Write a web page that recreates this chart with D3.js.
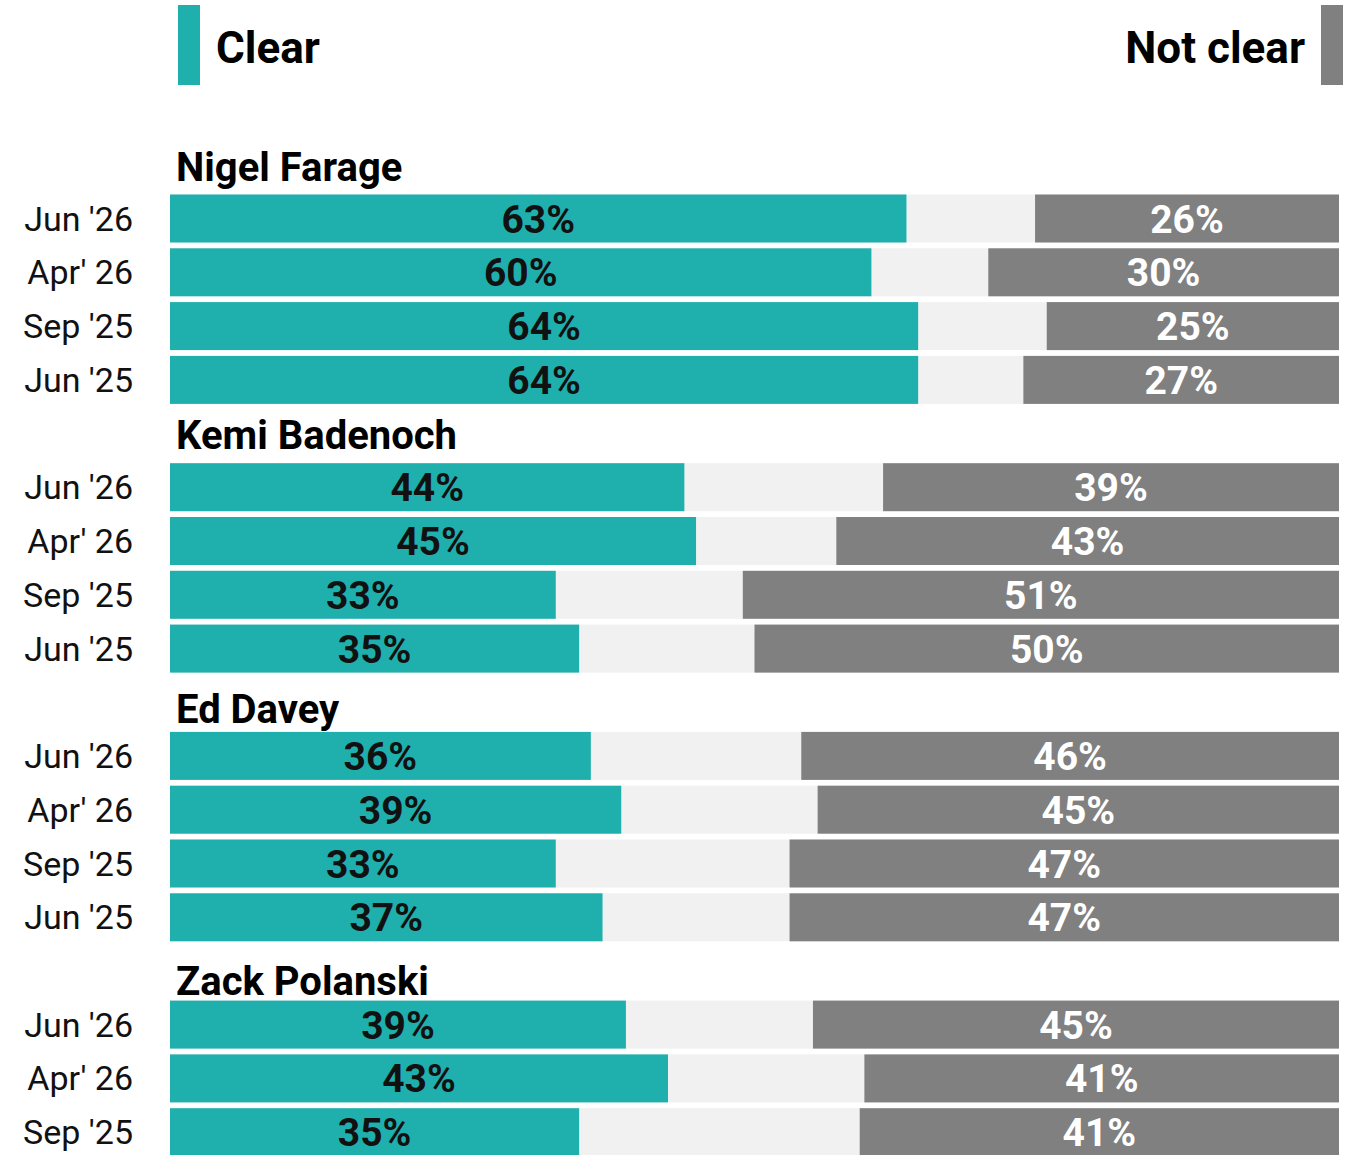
<!DOCTYPE html>
<html>
<head>
<meta charset="utf-8">
<script src="https://cdn.jsdelivr.net/npm/d3@7"></script>
<style>
  body { margin: 0; background: #fff; }
  text { font-family: Roboto, "Noto Sans", sans-serif; }
</style>
</head>
<body>
<div id="chart"></div>
<script>
// data (labels shown rounded)
var leaders = ["Nigel Farage", "Kemi Badenoch", "Ed Davey", "Zack Polanski"];
var waves = ["Jun '26", "Apr' 26", "Sep '25", "Jun '25"];
var clearVals = [
  [63, 60, 64, 64],
  [44, 45, 33, 35],
  [36, 38.6, 33, 37],
  [39, 42.6, 35]
];
var notClearVals = [
  [26, 30, 25, 27],
  [39, 43, 51, 50],
  [46, 44.6, 47, 47],
  [45, 40.6, 41]
];

var config = {
  width: 1352,
  height: 1155,
  barLeft: 170,
  barRight: 1339,
  firstTop: 194.5,
  groupStep: 268.7,
  rowStep: 53.8,
  barH: 48,
  titleOffset: [-14, -14, -9, -6],   // group title baseline above first bar
  teal: "#1fb0ae",
  grey: "#808080",
  rest: "#f1f1f1"
};

var svg = d3.select("#chart").append("svg")
  .attr("width", config.width)
  .attr("height", config.height);

var x = d3.scaleLinear().domain([0, 100]).range([config.barLeft, config.barRight]);
var gy = d3.scaleLinear().domain([0, 1]).range([config.firstTop, config.firstTop + config.groupStep]);
var ry = d3.scaleLinear().domain([0, 1]).range([0, config.rowStep]);

// legend
svg.append("rect").attr("x", 178).attr("y", 5).attr("width", 22).attr("height", 80).attr("fill", config.teal);
svg.append("text").attr("x", 216).attr("y", 63).attr("font-size", 44).attr("font-weight", 700)
  .attr("fill", "#000").text("Clear");
svg.append("rect").attr("x", 1321).attr("y", 5).attr("width", 22).attr("height", 80).attr("fill", config.grey);
svg.append("text").attr("x", 1305).attr("y", 63).attr("font-size", 44).attr("font-weight", 700)
  .attr("text-anchor", "end").attr("fill", "#000").text("Not clear");

// flatten rows
var rows = [];
leaders.forEach(function(name, gi) {
  clearVals[gi].forEach(function(c, ri) {
    rows.push({ group: gi, row: ri, wave: waves[ri], clear: c, notClear: notClearVals[gi][ri] });
  });
});

var groups = svg.selectAll("g.leader")
  .data(leaders)
  .enter().append("g")
  .classed("leader", true)
  .attr("transform", function(d, i) { return "translate(0," + gy(i) + ")"; });

groups.append("text")
  .attr("x", 176)
  .attr("y", function(d, i) { return config.titleOffset[i]; })
  .attr("font-size", 40)
  .attr("font-weight", 700)
  .attr("fill", "#000")
  .text(function(d) { return d; });

var rowG = svg.selectAll("g.row")
  .data(rows)
  .enter().append("g")
  .classed("row", true)
  .attr("transform", function(d) { return "translate(0," + (gy(d.group) + ry(d.row)) + ")"; });

rowG.append("rect")
  .attr("x", x(0)).attr("y", 0)
  .attr("width", x(100) - x(0)).attr("height", config.barH)
  .attr("fill", config.rest);

rowG.append("rect")
  .attr("x", x(0)).attr("y", 0)
  .attr("width", function(d) { return x(d.clear) - x(0); })
  .attr("height", config.barH)
  .attr("fill", config.teal);

rowG.append("rect")
  .attr("x", function(d) { return x(100 - d.notClear); }).attr("y", 0)
  .attr("width", function(d) { return x(100) - x(100 - d.notClear); })
  .attr("height", config.barH)
  .attr("fill", config.grey);

rowG.append("text")
  .attr("x", 133)
  .attr("y", config.barH / 2 + 12)
  .attr("text-anchor", "end")
  .attr("font-size", 34)
  .attr("fill", "#111")
  .text(function(d) { return d.wave; });

rowG.append("text")
  .attr("x", function(d) { return (x(0) + x(d.clear)) / 2; })
  .attr("y", config.barH / 2 + 14)
  .attr("text-anchor", "middle")
  .attr("font-size", 39)
  .attr("font-weight", 700)
  .attr("fill", "#111")
  .text(function(d) { return Math.round(d.clear) + "%"; });

rowG.append("text")
  .attr("x", function(d) { return (x(100 - d.notClear) + x(100)) / 2; })
  .attr("y", config.barH / 2 + 14)
  .attr("text-anchor", "middle")
  .attr("font-size", 39)
  .attr("font-weight", 700)
  .attr("fill", "#fff")
  .text(function(d) { return Math.round(d.notClear) + "%"; });
</script>
</body>
</html>
